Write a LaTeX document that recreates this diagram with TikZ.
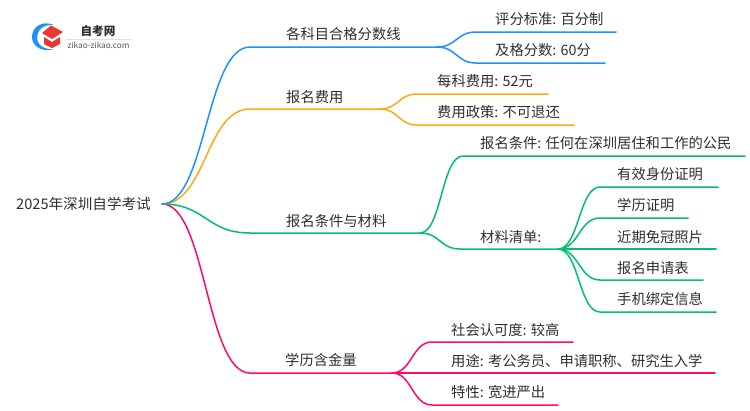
\documentclass[tikz,border=0pt]{standalone}
\usepackage{fontspec}
\setmainfont{Noto Sans CJK SC}
\usetikzlibrary{calc}
\definecolor{subjblue}{HTML}{1E90FF}
\definecolor{feeorange}{HTML}{FFA80F}
\definecolor{applygreen}{HTML}{00C06B}
\definecolor{valuepink}{HTML}{FF0A6C}
\definecolor{inkgrey}{HTML}{2E2E2E}
\definecolor{capred}{HTML}{E53935}
\tikzstyle{topic} = [anchor=west, inner sep=0pt, text=inkgrey, font=\fontsize{14.3}{16}\selectfont]
\tikzstyle{line} = [draw, line width=1.5pt, line cap=round]
\tikzstyle{branch} = [to path={.. controls ($(\tikztostart)!0.5!(\tikztotarget|-\tikztostart)$) and ($(\tikztotarget)!0.5!(\tikztostart|-\tikztotarget)$) .. (\tikztotarget)}]

\begin{document}
\begin{tikzpicture}[x=1pt, y=-1pt]
   \useasboundingbox (0,0) rectangle (750,410);
   % Place logo
    \fill [subjblue] (54,25) .. controls (42,20) and (32,27) .. (32,37) .. controls (32,46) and (42,53) .. (54,49) .. controls (44,50) and (37,45) .. (37,37) .. controls (37,30) and (44,24) .. cycle;
    \fill [capred] (42,33) -- (51,25.5) -- (63,32) -- (52,39) -- cycle;
    \fill [capred] (44,37) -- (52,42) -- (60,37) -- (60,44) -- (52,48) -- (44,44) -- cycle;
    \node [inner sep=0pt, text=inkgrey, font=\fontsize{11.6}{12}\selectfont\bfseries] (logoname) at (98,31) {自考网};
    \node [inner sep=0pt, text=inkgrey!80, font=\fontsize{8.2}{9}\selectfont] (logourl) at (98.5,45) {zikao-zikao.com};
    \draw [black!12, line width=0.6pt] (66,39) -- (131,39);
   % Place nodes
    \node [topic, font=\fontsize{14.6}{16}\selectfont] (root) at (16,204) {2025年深圳自学考试};
    \node [topic] (subject) at (286,34) {各科目合格分数线};
    \node [topic] (scale) at (495,19) {评分标准: 百分制};
    \node [topic] (pass) at (495,50) {及格分数: 60分};
    \node [topic] (fee) at (286,97) {报名费用};
    \node [topic] (feeeach) at (437,81) {每科费用: 52元};
    \node [topic] (feepolicy) at (437,112) {费用政策: 不可退还};
    \node [topic] (apply) at (286,221) {报名条件与材料};
    \node [topic] (cond) at (480,143) {报名条件: 任何在深圳居住和工作的公民};
    \node [topic] (list) at (480,237) {材料清单:};
    \node [topic] (idcard) at (617,174) {有效身份证明};
    \node [topic] (diploma) at (617,205) {学历证明};
    \node [topic] (photo) at (617,237) {近期免冠照片};
    \node [topic] (form) at (617,268) {报名申请表};
    \node [topic] (phone) at (617,299) {手机绑定信息};
    \node [topic] (value) at (285,360) {学历含金量};
    \node [topic] (repute) at (451,330) {社会认可度: 较高};
    \node [topic] (usage) at (451,361) {用途: 考公务员、申请职称、研究生入学};
    \node [topic] (trait) at (451,392) {特性: 宽进严出};
   % Place joints
    \coordinate (hub) at (162,204);
    \coordinate (subjectjoint) at (437,47);
    \coordinate (feejoint) at (380,109);
    \coordinate (applyjoint) at (420,233);
    \coordinate (listjoint) at (558,249);
    \coordinate (valuejoint) at (392,373);
   % Draw edges
    \path [line, draw=valuepink] (hub) to [branch] (250,373) -- (valuejoint);
    \path [line, draw=applygreen] (hub) to [branch] (250,233) -- (applyjoint);
    \path [line, draw=feeorange] (hub) to [branch] (250,109) -- (feejoint);
    \path [line, draw=subjblue] (hub) to [branch] (250,47) -- (subjectjoint);
    \path [line, draw=subjblue] (subjectjoint) to [branch] (476,32) -- (616,32);
    \path [line, draw=subjblue] (subjectjoint) to [branch] (476,63) -- (605,63);
    \path [line, draw=feeorange] (feejoint) to [branch] (417,94) -- (548,94);
    \path [line, draw=feeorange] (feejoint) to [branch] (417,125) -- (574,125);
    \path [line, draw=applygreen] (applyjoint) to [branch] (463,156) -- (745,156);
    \path [line, draw=applygreen] (applyjoint) to [branch] (460,249) -- (listjoint);
    \path [line, draw=applygreen] (listjoint) to [branch] (600,187) -- (718,187);
    \path [line, draw=applygreen] (listjoint) to [branch] (600,218) -- (688,218);
    \path [line, draw=applygreen] (listjoint) -- (716,249);
    \path [line, draw=applygreen] (listjoint) to [branch] (600,280) -- (703,280);
    \path [line, draw=applygreen] (listjoint) to [branch] (600,312) -- (716,312);
    \path [line, draw=valuepink] (valuejoint) to [branch] (432,342) -- (573,342);
    \path [line, draw=valuepink] (valuejoint) -- (715,373);
    \path [line, draw=valuepink] (valuejoint) to [branch] (432,405) -- (558,405);
\end{tikzpicture}
\end{document}
